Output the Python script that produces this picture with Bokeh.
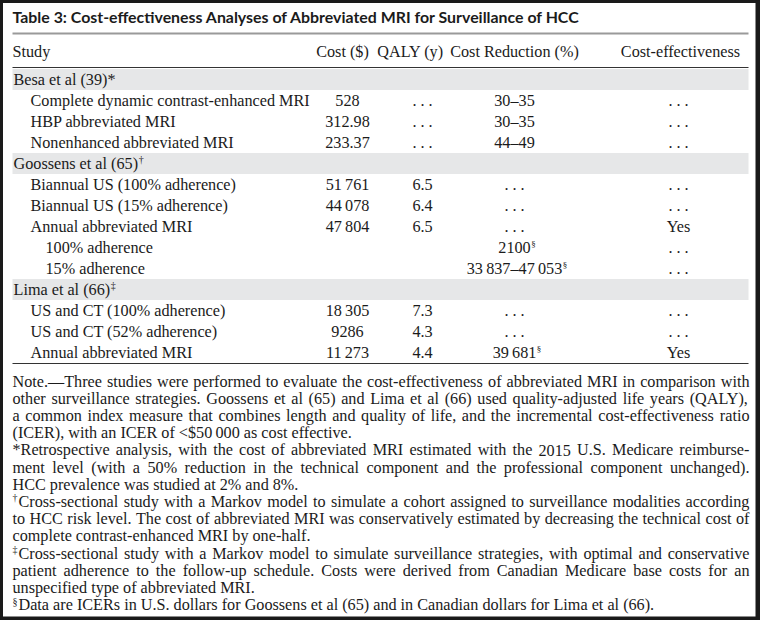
from bokeh.plotting import figure
from bokeh.models import Range1d, ColumnDataSource
from bokeh.embed import file_html
from bokeh.resources import INLINE
from bokeh.core.properties import value

# ---------------- data ----------------
TITLE = "Table 3: Cost-effectiveness Analyses of Abbreviated MRI for Surveillance of HCC"
HEADERS = ["Study", "Cost ($)", "QALY (y)", "Cost Reduction (%)", "Cost-effectiveness"]

DOTS = ". . ."
TS = "\u2009"

studies = ["Besa et al (39)*", "Goossens et al (65)", "Lima et al (66)"]
study_marks = ["", "\u2020", "\u2021"]

row_study = [0, 0, 0, 1, 1, 1, 1, 1, 2, 2, 2]
row_level = [1, 1, 1, 1, 1, 1, 2, 2, 1, 1, 1]
row_labels = [
    "Complete dynamic contrast-enhanced MRI",
    "HBP abbreviated MRI",
    "Nonenhanced abbreviated MRI",
    "Biannual US (100% adherence)",
    "Biannual US (15% adherence)",
    "Annual abbreviated MRI",
    "100% adherence",
    "15% adherence",
    "US and CT (100% adherence)",
    "US and CT (52% adherence)",
    "Annual abbreviated MRI",
]
cost = ["528", "312.98", "233.37", "51" + TS + "761", "44" + TS + "078", "47" + TS + "804",
        "", "", "18" + TS + "305", "9286", "11" + TS + "273"]
qaly = [DOTS, DOTS, DOTS, "6.5", "6.4", "6.5", "", "", "7.3", "4.3", "4.4"]
reduction = ["30\u201335", "30\u201335", "44\u201349", DOTS, DOTS, DOTS,
             "2100", "33" + TS + "837\u201347" + TS + "053", DOTS, DOTS, "39" + TS + "681"]
reduction_mark = ["", "", "", "", "", "", "\u00a7", "\u00a7", "", "", "\u00a7"]
effective = [DOTS, DOTS, DOTS, DOTS, DOTS, "Yes", DOTS, DOTS, DOTS, DOTS, "Yes"]

# footnote lines as printed
note_marks = ["", "", "", "", "", "", "", "\u2020", "", "", "\u2021", "", "", "\u00a7"]
note_last = [False, False, False, True, False, False, True, False, False, True, False, False, True, True]
notes = [
    "Note.\u2014Three studies were performed to evaluate the cost-effectiveness of abbreviated MRI in comparison with",
    "other surveillance strategies. Goossens et al (65) and Lima et al (66) used quality-adjusted life years (QALY),",
    "a common index measure that combines length and quality of life, and the incremental cost-effectiveness ratio",
    "(ICER), with an ICER of <$50" + TS + "000 as cost effective.",
    "*Retrospective analysis, with the cost of abbreviated MRI estimated with the 2015 U.S. Medicare reimburse-",
    "ment level (with a 50% reduction in the technical component and the professional component unchanged).",
    "HCC prevalence was studied at 2% and 8%.",
    "Cross-sectional study with a Markov model to simulate a cohort assigned to surveillance modalities according",
    "to HCC risk level. The cost of abbreviated MRI was conservatively estimated by decreasing the technical cost of",
    "complete contrast-enhanced MRI by one-half.",
    "Cross-sectional study with a Markov model to simulate surveillance strategies, with optimal and conservative",
    "patient adherence to the follow-up schedule. Costs were derived from Canadian Medicare base costs for an",
    "unspecified type of abbreviated MRI.",
    "Data are ICERs in U.S. dollars for Goossens et al (65) and in Canadian dollars for Lima et al (66).",
]

# ---------------- layout helpers ----------------
_W = {" ": 250, "!": 333, "$": 500, "%": 833, "(": 333, ")": 333, "*": 500, ",": 250, "-": 333,
      ".": 250, "/": 278, ":": 278, ";": 278, "<": 564, "\u2009": 200, "\u2013": 500, "\u2014": 1000,
      "A": 722, "B": 667, "C": 667, "D": 722, "E": 611, "F": 556, "G": 722, "H": 722, "I": 333,
      "J": 389, "K": 722, "L": 611, "M": 889, "N": 722, "O": 722, "P": 556, "Q": 722, "R": 667,
      "S": 556, "T": 611, "U": 722, "V": 722, "W": 944, "X": 722, "Y": 722, "Z": 611,
      "a": 444, "b": 500, "c": 444, "d": 500, "e": 444, "f": 333, "g": 500, "h": 500, "i": 278,
      "j": 278, "k": 500, "l": 278, "m": 778, "n": 500, "o": 500, "p": 500, "q": 500, "r": 333,
      "s": 389, "t": 278, "u": 500, "v": 500, "w": 722, "x": 500, "y": 500, "z": 444}


def tw(s, px):
    return sum(_W.get(c, 500) for c in s) * px / 1000.0


SERIF = value("Liberation Serif")
SANS = value("Lato")
INK = "#1b1b1b"
FPX = 16.2
FS = "%.1fpx" % FPX

X0, X1, XR = 12, 748, 749
COL_HDR_X = [12, 342, 410, 514, 680]
COL_VAL_X = [30, 347, 422, 514, 678]
Y_TITLE, Y_TITLE_RULE = 16, 33
Y_HEAD, Y_HEAD_RULE = 51, 67
Y_ROW0, ROW_H = 79, 21
Y_NOTE0, NOTE_H = 381, 17.2

p = figure(width=760, height=620, output_backend="svg", toolbar_location=None,
           x_range=Range1d(0, 760), y_range=Range1d(620, 0),
           min_border=0, background_fill_color="white", border_fill_color="white")
p.axis.visible = False
p.grid.visible = False
p.outline_line_color = "#1a1a1a"
p.outline_line_width = 5
p.segment(x0=[757.5, 0], y0=[0, 618], x1=[757.5, 760], y1=[620, 618],
          line_color="#1a1a1a", line_width=[5, 4])

# title
p.text(x=[X0], y=[Y_TITLE], text=[TITLE], text_font=SANS, text_font_style="bold",
       text_font_size="15.9px", text_baseline="middle", text_color=INK)
p.segment(x0=[X0], y0=[Y_TITLE_RULE], x1=[X1], y1=[Y_TITLE_RULE],
          line_color="#9a9a9a", line_width=2)

# header
p.text(x=COL_HDR_X[:1], y=[Y_HEAD], text=HEADERS[:1], text_font=SERIF, text_font_size=FS,
       text_baseline="middle", text_color=INK)
p.text(x=COL_HDR_X[1:], y=[Y_HEAD] * 4, text=HEADERS[1:], text_font=SERIF, text_font_size=FS,
       text_baseline="middle", text_align="center", text_color=INK)
p.segment(x0=[X0], y0=[Y_HEAD_RULE], x1=[X1], y1=[Y_HEAD_RULE], line_color="#333333", line_width=1.2)

# body rows
grp_y, grp_txt = [], []
lab_x, lab_y, lab_t, val_y = [], [], [], []
i = 0
for s, name in enumerate(studies):
    grp_y.append(Y_ROW0 + i * ROW_H)
    grp_txt.append(name)
    i += 1
    for r in range(len(row_labels)):
        if row_study[r] != s:
            continue
        y = Y_ROW0 + i * ROW_H
        lab_x.append(30 if row_level[r] == 1 else 45)
        lab_y.append(y)
        lab_t.append(row_labels[r])
        val_y.append(y)
        i += 1
y_end = Y_ROW0 + (i - 1) * ROW_H + 11

p.quad(left=[X0] * 3, right=[X1] * 3, top=[g - 10.5 for g in grp_y], bottom=[g + 10.5 for g in grp_y],
       fill_color="#e6e7e8", line_color=None)
p.text(x=[X0 + 1] * 3, y=grp_y, text=grp_txt, text_font=SERIF, text_font_size=FS,
       text_baseline="middle", text_color=INK)
gm_x = [X0 + 1 + tw(grp_txt[k], FPX) + 0.5 for k in range(3) if study_marks[k]]
gm_y = [grp_y[k] - 4 for k in range(3) if study_marks[k]]
gm_t = [m for m in study_marks if m]
p.text(x=gm_x, y=gm_y, text=gm_t, text_font=SERIF, text_font_size="10px",
       text_baseline="middle", text_color=INK)

p.text(x=lab_x, y=lab_y, text=lab_t, text_font=SERIF, text_font_size=FS,
       text_baseline="middle", text_color=INK)
for cx, col in zip(COL_VAL_X[1:], [cost, qaly, reduction, effective]):
    src = ColumnDataSource(dict(x=[cx] * len(col), y=val_y, t=col))
    p.text(x="x", y="y", text="t", source=src, text_font=SERIF, text_font_size=FS,
           text_baseline="middle", text_align="center", text_color=INK)
sm_x = [COL_VAL_X[3] + tw(reduction[r], FPX) / 2 + 0.5 for r in range(len(reduction)) if reduction_mark[r]]
sm_y = [val_y[r] - 4 for r in range(len(reduction)) if reduction_mark[r]]
sm_t = [m for m in reduction_mark if m]
p.text(x=sm_x, y=sm_y, text=sm_t, text_font=SERIF, text_font_size="9px",
       text_baseline="middle", text_color=INK)

p.segment(x0=[X0], y0=[y_end], x1=[X1], y1=[y_end], line_color="#333333", line_width=1.2)

# notes (justified like the printed table)
wx, wy, wt = [], [], []
mx, my, mt = [], [], []
for k, line in enumerate(notes):
    y = Y_NOTE0 + k * NOTE_H
    x = X0
    if note_marks[k]:
        mx.append(X0); my.append(y - 4); mt.append(note_marks[k])
        x = X0 + 6
    if note_last[k]:
        wx.append(x); wy.append(y); wt.append(line)
        continue
    words = line.split(" ")
    widths = [tw(w, FPX) for w in words]
    gap = (XR - x - sum(widths)) / (len(words) - 1)
    for w, ww in zip(words, widths):
        wx.append(x); wy.append(y); wt.append(w)
        x += ww + gap
p.text(x=wx, y=wy, text=wt, text_font=SERIF, text_font_size=FS,
       text_baseline="middle", text_color=INK)
p.text(x=mx, y=my, text=mt, text_font=SERIF, text_font_size="10px",
       text_baseline="middle", text_color=INK)

open("out.html", "w").write(file_html(p, INLINE))
